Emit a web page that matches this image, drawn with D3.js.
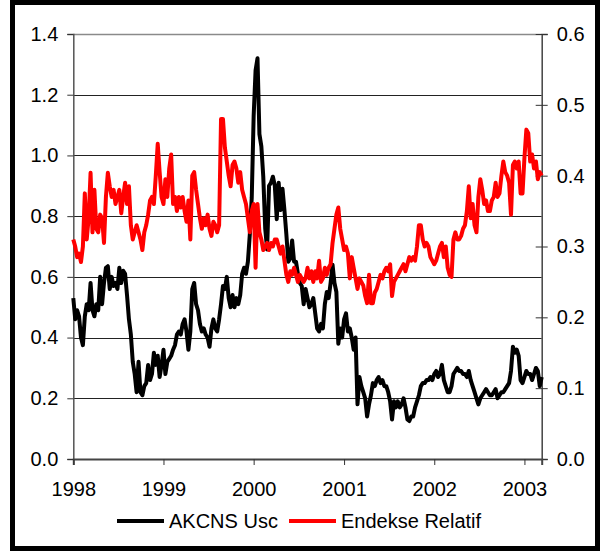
<!DOCTYPE html>
<html>
<head>
<meta charset="utf-8">
<script src="https://cdn.jsdelivr.net/npm/d3@7"></script>
<style>
  body { margin: 0; background: #fff; }
  svg { display: block; font-family: "Liberation Sans", Arial, sans-serif; }
</style>
</head>
<body>
<svg id="chart" width="600" height="552"></svg>
<script>
'use strict';

// weekly-ish readings, 47 samples per calendar year starting 1998-01-01
const firstYear = 1998;
const samplesPerYear = 47;

// AKCNS Usc (left axis)
const akcnsUsc = [
  0.53,0.46,0.49,0.47,0.40,0.375,0.47,0.51,0.49,0.58,0.49,0.47,0.51,0.49,0.60,0.51,0.58,0.63,0.635,0.56,0.60,0.57,0.58,0.56,0.63,0.58,0.62,0.61,0.54,0.46,0.41,0.32,0.28,0.22,0.32,0.22,0.21,0.24,0.25,0.31,0.26,0.28,0.35,0.31,0.34,0.27,0.31,
  0.36,0.28,0.32,0.33,0.34,0.36,0.375,0.41,0.42,0.41,0.445,0.46,0.42,0.36,0.42,0.56,0.58,0.51,0.49,0.445,0.42,0.43,0.41,0.40,0.37,0.43,0.46,0.43,0.42,0.46,0.51,0.57,0.56,0.60,0.53,0.50,0.54,0.50,0.53,0.51,0.54,0.61,0.63,0.61,0.65,0.74,0.86,
  1.13,1.28,1.32,1.07,1.03,0.93,0.76,0.69,0.90,0.91,0.93,0.90,0.79,0.91,0.82,0.89,0.82,0.74,0.65,0.66,0.72,0.65,0.65,0.61,0.58,0.57,0.51,0.56,0.53,0.50,0.51,0.53,0.48,0.43,0.42,0.445,0.43,0.51,0.55,0.53,0.58,0.64,0.58,0.55,0.38,0.43,0.40,
  0.46,0.48,0.42,0.43,0.40,0.36,0.40,0.18,0.27,0.24,0.22,0.20,0.14,0.18,0.21,0.25,0.24,0.26,0.27,0.25,0.26,0.24,0.24,0.22,0.19,0.13,0.19,0.17,0.19,0.17,0.18,0.20,0.17,0.13,0.125,0.14,0.14,0.17,0.19,0.21,0.24,0.25,0.25,0.26,0.26,0.27,0.26,
  0.28,0.29,0.27,0.28,0.31,0.26,0.24,0.22,0.22,0.24,0.28,0.29,0.30,0.29,0.29,0.28,0.28,0.27,0.29,0.26,0.24,0.22,0.20,0.18,0.20,0.21,0.22,0.23,0.22,0.21,0.21,0.22,0.23,0.20,0.21,0.22,0.22,0.23,0.24,0.25,0.29,0.37,0.35,0.36,0.34,0.26,0.25,
  0.27,0.29,0.28,0.28,0.26,0.28,0.30,0.29,0.24,0.27
];

// Endekse Relatif (right axis)
const endeksRelatif = [
  0.31,0.30,0.285,0.29,0.278,0.30,0.375,0.31,0.34,0.404,0.32,0.38,0.325,0.32,0.345,0.34,0.305,0.37,0.404,0.385,0.37,0.38,0.36,0.37,0.38,0.347,0.37,0.39,0.36,0.385,0.33,0.31,0.32,0.33,0.32,0.31,0.295,0.32,0.33,0.345,0.365,0.37,0.36,0.40,0.445,0.405,0.37,
  0.36,0.395,0.37,0.41,0.43,0.36,0.37,0.35,0.37,0.355,0.37,0.35,0.335,0.365,0.31,0.40,0.405,0.38,0.36,0.34,0.325,0.34,0.33,0.345,0.325,0.315,0.335,0.33,0.32,0.33,0.48,0.48,0.44,0.42,0.40,0.385,0.415,0.42,0.41,0.39,0.405,0.38,0.37,0.36,0.34,0.32,0.35,
  0.36,0.27,0.36,0.32,0.31,0.295,0.30,0.305,0.295,0.305,0.30,0.31,0.31,0.30,0.29,0.30,0.28,0.26,0.25,0.265,0.26,0.27,0.26,0.25,0.26,0.255,0.25,0.255,0.27,0.255,0.265,0.25,0.265,0.255,0.28,0.25,0.255,0.27,0.26,0.27,0.275,0.305,0.325,0.345,0.355,0.325,0.31,
  0.295,0.30,0.29,0.255,0.285,0.27,0.255,0.24,0.255,0.25,0.245,0.23,0.22,0.26,0.22,0.22,0.235,0.24,0.25,0.26,0.255,0.265,0.27,0.265,0.275,0.23,0.25,0.255,0.26,0.265,0.27,0.275,0.265,0.275,0.285,0.28,0.285,0.28,0.30,0.33,0.33,0.31,0.30,0.305,0.30,0.285,0.28,
  0.275,0.28,0.29,0.30,0.305,0.285,0.30,0.27,0.26,0.257,0.31,0.32,0.31,0.31,0.315,0.325,0.33,0.35,0.385,0.34,0.36,0.33,0.32,0.37,0.395,0.38,0.36,0.365,0.35,0.35,0.365,0.37,0.39,0.37,0.375,0.40,0.42,0.405,0.40,0.39,0.345,0.415,0.42,0.41,0.42,0.375,0.375,
  0.425,0.465,0.46,0.42,0.43,0.41,0.42,0.395,0.405,0.40
];

const yearTicks = [1998, 1999, 2000, 2001, 2002, 2003];
const leftTicks = [0, 0.2, 0.4, 0.6, 0.8, 1.0, 1.2, 1.4];
const rightTicks = [0, 0.1, 0.2, 0.3, 0.4, 0.5, 0.6];
const seriesNames = ["AKCNS Usc", "Endekse Relatif"];
const seriesColors = ["#000000", "#ff0000"];

function decToDate(d) {
  var y = Math.floor(d);
  var s = new Date(y, 0, 1), e = new Date(y + 1, 0, 1);
  return new Date(+s + (d - y) * (e - s));
}

var svg = d3.select("#chart");
var margin = { left: 73.3, right: 541.7, top: 34, bottom: 459 };

var lastIndex = akcnsUsc.length - 1;
var x = d3.scaleTime()
  .domain([decToDate(firstYear), decToDate(firstYear + lastIndex / samplesPerYear)])
  .range([margin.left, margin.right]);
var yL = d3.scaleLinear().domain([0, 1.4]).range([margin.bottom, margin.top]);
var yR = d3.scaleLinear().domain([0, 0.6]).range([margin.bottom, margin.top]);

svg.append("rect").attr("width", 600).attr("height", 552).attr("fill", "#fff");

// outer frame
svg.append("rect")
  .attr("x", 12.5).attr("y", 2.5).attr("width", 585).attr("height", 546)
  .attr("fill", "none").attr("stroke", "#000").attr("stroke-width", 5);

// gridlines
svg.append("g").selectAll("line")
  .data(leftTicks.filter(function(t) { return t > 0; }))
  .join("line")
  .attr("x1", margin.left).attr("x2", margin.right)
  .attr("y1", function(d) { return Math.round(yL(d)) + 0.5; })
  .attr("y2", function(d) { return Math.round(yL(d)) + 0.5; })
  .attr("stroke", function(d) { return d === 1.4 ? "#8a8a8a" : "#222"; })
  .attr("stroke-width", function(d) { return d === 1.4 ? 1.5 : 1; });

// left axis
var axL = svg.append("g")
  .attr("transform", "translate(" + margin.left + ",0)")
  .call(d3.axisLeft(yL).tickValues(leftTicks).tickFormat(d3.format(".1f")).tickSizeOuter(0).tickSize(6).tickPadding(9));
axL.select(".domain").attr("stroke", "#555").attr("stroke-width", 1.5);

// right axis
var axR = svg.append("g")
  .attr("transform", "translate(" + margin.right + ",0)")
  .call(d3.axisRight(yR).tickValues(rightTicks).tickFormat(d3.format(".1f")).tickSizeOuter(0).tickSize(6).tickPadding(9));
axR.select(".domain").attr("stroke", "#444").attr("stroke-width", 1.5);
axR.selectAll(".tick line").attr("x1", -6);

// bottom axis
var axB = svg.append("g")
  .attr("transform", "translate(0," + margin.bottom + ")")
  .call(d3.axisBottom(x).tickValues(yearTicks.map(decToDate)).tickFormat(d3.timeFormat("%Y")).tickSizeOuter(0).tickSize(6).tickPadding(17));
axB.select(".domain").attr("stroke", "#444").attr("stroke-width", 2);

svg.selectAll(".tick text").attr("font-size", 20).attr("fill", "#000")
  .attr("font-family", "'Liberation Sans', Arial, sans-serif");
svg.selectAll(".tick line").attr("stroke", "#333");

// series
var lineL = d3.line()
  .x(function(d, i) { return x(decToDate(firstYear + i / samplesPerYear)); })
  .y(function(d) { return yL(d); });
var lineR = d3.line()
  .x(function(d, i) { return x(decToDate(firstYear + i / samplesPerYear)); })
  .y(function(d) { return yR(d); });

svg.append("path").datum(akcnsUsc).attr("d", lineL)
  .attr("fill", "none").attr("stroke", seriesColors[0]).attr("stroke-width", 4)
  .attr("stroke-linejoin", "round");
svg.append("path").datum(endeksRelatif).attr("d", lineR)
  .attr("fill", "none").attr("stroke", seriesColors[1]).attr("stroke-width", 4)
  .attr("stroke-linejoin", "round");

// legend
var legend = svg.append("g").attr("transform", "translate(117,521)");
var legendX = [0, 172];
seriesNames.forEach(function(name, i) {
  var g = legend.append("g").attr("transform", "translate(" + legendX[i] + ",0)");
  g.append("line").attr("x1", 0).attr("x2", 47).attr("y1", 0).attr("y2", 0)
    .attr("stroke", seriesColors[i]).attr("stroke-width", 4);
  g.append("text").attr("x", 52).attr("y", 7).attr("font-size", 20).attr("fill", "#000")
    .text(name);
});
</script>
</body>
</html>
